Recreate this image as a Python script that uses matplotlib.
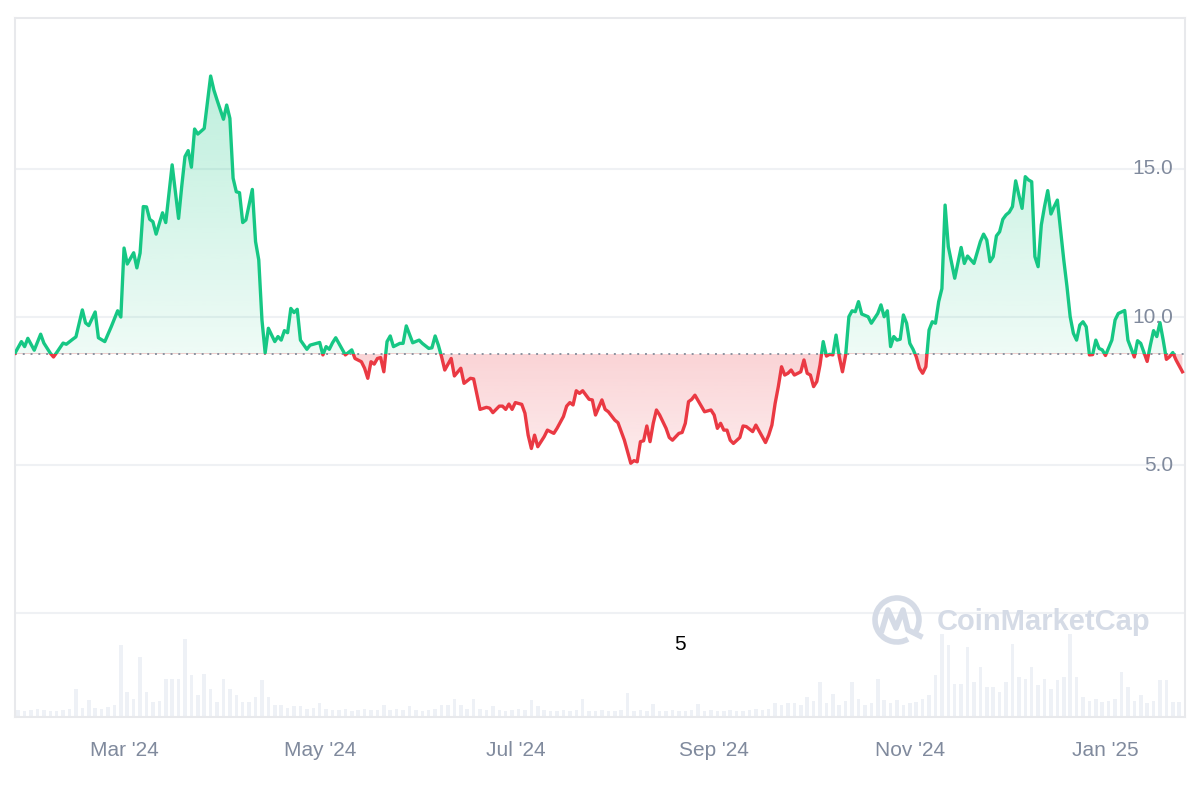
import numpy as np
import pandas as pd
import matplotlib
matplotlib.use("Agg")
import matplotlib.pyplot as plt
import matplotlib.dates as mdates
from matplotlib.patches import Rectangle, Arc
from matplotlib.path import Path
from matplotlib.colors import to_rgb

# ---- data ----
start = pd.Timestamp("2024-01-27")
price_day = [0, 2, 3, 4, 6, 8, 9, 11, 12, 13, 15, 16, 18, 19, 21, 22, 23, 25, 26, 28,
             30, 32, 33, 34, 35, 37, 38, 39, 40, 41, 42, 43, 44, 46, 47, 49, 51, 52, 53, 54,
             55, 56, 57, 59, 61, 62, 63, 65, 66, 67, 68, 69, 70, 71, 72, 74, 75, 76, 77, 78,
             79, 81, 82, 83, 84, 85, 86, 87, 88, 89, 91, 92, 95, 96, 97, 98, 99, 100, 102, 103,
             105, 106, 108, 109, 110, 111, 112, 113, 114, 115, 116, 117, 118, 120, 121, 122, 124, 126, 127, 129,
             130, 131, 132, 133, 134, 136, 137, 139, 140, 142, 143, 145, 147, 148, 149, 151, 152, 153, 154, 155,
             156, 158, 159, 160, 161, 162, 163, 165, 166, 168, 169, 171, 172, 173, 174, 175, 176, 177, 179, 180,
             181, 183, 184, 185, 187, 188, 190, 191, 192, 193, 194, 195, 196, 197, 198, 199, 200, 201, 203, 204,
             205, 207, 208, 209, 210, 211, 212, 214, 215, 217, 218, 219, 220, 221, 222, 223, 224, 226, 227, 228,
             230, 231, 233, 234, 235, 236, 237, 238, 239, 240, 241, 242, 243, 245, 246, 247, 248, 249, 250, 251,
             252, 253, 254, 255, 256, 257, 258, 259, 260, 261, 262, 263, 264, 266, 267, 269, 270, 271, 272, 273,
             274, 275, 276, 277, 278, 279, 280, 281, 282, 283, 284, 285, 286, 287, 288, 289, 290, 291, 293, 295,
             296, 297, 299, 301, 302, 303, 304, 305, 306, 307, 308, 309, 310, 311, 312, 313, 314, 315, 316, 317,
             318, 319, 320, 321, 322, 323, 324, 325, 327, 328, 329, 330, 331, 332, 333, 334, 335, 336, 337, 338,
             339, 340, 342, 343, 344, 346, 347, 349, 350, 351, 353, 354, 355, 356, 357, 358, 359, 360, 361, 362,
             364]
price = [8.78, 9.17, 9.00, 9.28, 8.88, 9.42, 9.12, 8.78, 8.65, 8.80, 9.12, 9.08, 9.25, 9.33, 10.24, 9.80, 9.71, 10.17, 9.30, 9.17,
         9.67, 10.21, 10.00, 12.33, 11.79, 12.17, 11.66, 12.16, 13.73, 13.72, 13.30, 13.22, 12.80, 13.52, 13.19, 15.14, 13.33, 14.43, 15.42, 15.62,
         15.06, 16.35, 16.18, 16.37, 18.14, 17.67, 17.33, 16.68, 17.16, 16.71, 14.69, 14.23, 14.20, 13.19, 13.28, 14.31, 12.55, 11.93, 9.90, 8.79,
         9.62, 9.17, 9.34, 9.22, 9.54, 9.47, 10.29, 10.15, 10.26, 9.22, 8.91, 9.05, 9.14, 8.72, 9.00, 8.91, 9.13, 9.30, 8.91, 8.72,
         8.89, 8.60, 8.49, 8.27, 7.93, 8.49, 8.41, 8.60, 8.63, 8.15, 9.17, 9.36, 9.00, 9.11, 9.11, 9.70, 9.13, 9.22, 9.11, 8.94,
         8.96, 9.36, 9.05, 8.66, 8.21, 8.60, 8.01, 8.27, 7.76, 7.93, 7.91, 6.88, 6.95, 6.92, 6.77, 6.99, 6.99, 6.88, 7.06, 6.88,
         7.11, 7.05, 6.75, 6.01, 5.56, 6.01, 5.62, 5.96, 6.18, 6.07, 6.24, 6.64, 6.99, 7.11, 7.03, 7.51, 7.42, 7.51, 7.22, 7.20,
         6.69, 7.20, 6.88, 6.80, 6.52, 6.43, 5.84, 5.45, 5.06, 5.15, 5.11, 5.79, 5.82, 6.32, 5.79, 6.41, 6.86, 6.69, 6.24, 5.93,
         5.84, 6.07, 6.10, 6.41, 7.14, 7.22, 7.36, 6.99, 6.80, 6.86, 6.69, 6.24, 6.41, 6.18, 6.18, 5.84, 5.73, 5.93, 6.32, 6.30,
         6.13, 6.35, 5.96, 5.76, 6.01, 6.35, 7.08, 7.65, 8.32, 8.04, 8.10, 8.21, 8.04, 8.15, 8.55, 8.10, 8.04, 7.65, 7.82, 8.38,
         9.17, 8.68, 8.74, 8.72, 9.39, 8.66, 8.15, 8.72, 10.01, 10.21, 10.18, 10.52, 10.10, 10.01, 9.79, 10.12, 10.41, 10.01, 10.21, 9.00,
         9.34, 9.22, 9.25, 10.07, 9.79, 9.11, 8.91, 8.66, 8.27, 8.10, 8.32, 9.56, 9.84, 9.79, 10.52, 10.96, 13.78, 12.38, 11.31, 12.35,
         11.81, 12.06, 11.81, 12.55, 12.80, 12.60, 11.87, 12.04, 12.74, 12.88, 13.30, 13.45, 13.54, 13.73, 14.60, 14.12, 13.67, 14.74, 14.63, 14.57,
         12.04, 11.70, 13.11, 13.73, 14.27, 13.48, 13.73, 13.95, 11.93, 11.03, 10.01, 9.45, 9.22, 9.73, 9.84, 9.67, 8.72, 8.73, 9.22, 8.94,
         8.89, 8.70, 9.22, 9.90, 10.12, 10.22, 9.22, 8.65, 9.20, 9.11, 8.50, 9.05, 9.54, 9.34, 9.81, 9.22, 8.57, 8.66, 8.80, 8.55,
         8.15]

# traded volume, one bar per two days (arbitrary units, $M)
vol_step = 2
volume = [7, 6, 7, 8, 7, 6, 6, 7, 8, 28, 9, 17, 9, 8, 10, 12, 72, 25, 18, 60,
          25, 15, 16, 38, 38, 38, 78, 42, 22, 43, 28, 15, 38, 28, 22, 15, 15, 20, 37, 20,
          12, 12, 9, 11, 11, 8, 9, 14, 8, 7, 7, 8, 6, 7, 8, 7, 7, 12, 7, 8,
          7, 11, 7, 6, 7, 8, 12, 12, 18, 12, 8, 18, 8, 7, 11, 7, 6, 7, 8, 7,
          17, 11, 7, 6, 6, 7, 6, 7, 18, 6, 6, 7, 6, 6, 7, 24, 6, 7, 6, 13,
          6, 6, 7, 6, 6, 7, 13, 6, 7, 6, 6, 7, 6, 6, 7, 8, 7, 8, 14, 12,
          14, 14, 12, 20, 16, 35, 14, 23, 12, 16, 35, 18, 12, 14, 38, 17, 14, 17, 12, 14,
          15, 18, 22, 42, 83, 72, 33, 33, 70, 35, 50, 30, 30, 25, 35, 73, 40, 38, 50, 32,
          38, 28, 37, 40, 83, 40, 20, 16, 18, 15, 16, 18, 45, 30, 16, 22, 14, 16, 37, 37,
          15, 15, 12]

baseline = 8.75
ytick_vals = [5.0, 10.0, 15.0]
xtick_dates = ["2024-03-01", "2024-05-01", "2024-07-01", "2024-09-01", "2024-11-01", "2025-01-01"]
xtick_labels = ["Mar '24", "May '24", "Jul '24", "Sep '24", "Nov '24", "Jan '25"]

green = "#16c784"
red = "#ea3943"
grey_txt = "#808a9d"

plt.rcParams['font.family'] = ['Liberation Sans', 'DejaVu Sans']

dates = start + pd.to_timedelta(price_day, unit="D")
x = mdates.date2num(dates.to_pydatetime())
y = np.array(price)
x0 = mdates.date2num(start.to_pydatetime())
x1 = x0 + 364.8

fig = plt.figure(figsize=(12, 8), dpi=100)
rect = [0.0125, 0.10375, 0.975, 0.87375]
axv = fig.add_axes(rect)
ax = fig.add_axes(rect, sharex=axv)
ax.patch.set_alpha(0)

# volume pane
vx = x0 + vol_step * np.arange(len(volume)) + vol_step / 2
axv.bar(vx, volume, width=1.1, color="#eef1f6", linewidth=0)
axv.set_ylim(0, 699)
axv.axis("off")

# gradient fills clipped to the area between the line and the baseline
poly = ax.fill_between(x, y, baseline, color="none", linewidth=0)
clip = Path.make_compound_path(*poly.get_paths())

def gradient(color, a_bottom, a_top, lo, hi):
    rgba = np.zeros((256, 1, 4))
    rgba[..., :3] = to_rgb(color)
    rgba[..., 3] = np.linspace(a_bottom, a_top, 256)[:, None]
    im = ax.imshow(rgba, extent=[x0, x1, lo, hi], origin="lower", aspect="auto",
                   interpolation="bilinear", zorder=1)
    im.set_clip_path(clip, ax.transData)

gradient(green, 0.07, 0.28, baseline, y.max())
gradient(red, 0.10, 0.22, y.min(), baseline)

# price line, green above the baseline and red below it
lg, = ax.plot(x, y, color=green, lw=2.4, solid_joinstyle="round", zorder=3)
lg.set_clip_path(Rectangle((x0, baseline), x1 - x0, 50, transform=ax.transData))
lr, = ax.plot(x, y, color=red, lw=2.4, solid_joinstyle="round", zorder=3)
lr.set_clip_path(Rectangle((x0, baseline - 50), x1 - x0, 50, transform=ax.transData))

ax.axhline(baseline, color="#8c93a0", lw=1.4, ls=(0, (1, 3)), zorder=2)

ax.set_xlim(x0, x1)
ax.set_ylim(-3.51, 20.1)

ax.set_yticks([0.0] + ytick_vals)
ax.grid(axis="y", color="#eff1f4", lw=1.5)
ax.set_axisbelow(True)
ax.tick_params(axis="y", left=False, right=False, labelleft=False)
for v in ytick_vals:
    ax.text(0.9897, v, f"{v:.1f}", transform=ax.get_yaxis_transform(),
            ha="right", va="center", fontsize=15, color=grey_txt, zorder=4)

ax.set_xticks(mdates.date2num(pd.to_datetime(xtick_dates).to_pydatetime()))
ax.set_xticklabels(xtick_labels)
ax.tick_params(axis="x", length=0, pad=17, labelsize=15, labelcolor=grey_txt)

for s in ax.spines.values():
    s.set_color("#e8e9ec")
    s.set_linewidth(1.5)

# watermark
wm = "#d5dbe6"
fig.text(937 / 1200, 1 - 622 / 800, "CoinMarketCap", fontsize=21, fontweight="bold",
         color=wm, ha="left", va="center")
logo = Arc((8.97, 1.80), 0.44, 0.44, theta1=-40, theta2=300, lw=4, color=wm,
           transform=fig.dpi_scale_trans)
fig.add_artist(logo)
fig.add_artist(plt.Line2D([8.82, 8.88, 8.96, 9.03, 9.08, 9.20],
                          [1.70, 1.90, 1.72, 1.90, 1.70, 1.64],
                          lw=4, color=wm, solid_joinstyle="round",
                          transform=fig.dpi_scale_trans))

fig.text(680 / 1200, 1 - 644 / 800, "5", fontsize=15, color="black", ha="center", va="center")

fig.savefig("out.png", dpi=100)
